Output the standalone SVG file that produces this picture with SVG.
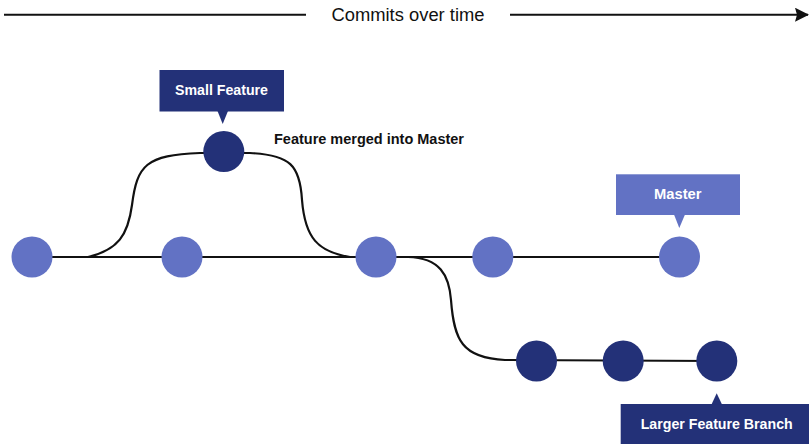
<svg xmlns="http://www.w3.org/2000/svg" width="809" height="444" viewBox="0 0 809 444">
  <style>
    .line { fill: none; stroke: #111; stroke-width: 2.2; stroke-linecap: round; }
    .axis { fill: none; stroke: #111; stroke-width: 2; }
    .light { fill: #6272c4; }
    .dark { fill: #233178; }
    .lbl { font-family: "Liberation Sans", Arial, sans-serif; font-weight: bold; font-size: 14px; fill: #ffffff; }
    .note { font-family: "Liberation Sans", Arial, sans-serif; font-weight: bold; font-size: 14px; fill: #111; }
    .title { font-family: "Liberation Sans", Arial, sans-serif; font-size: 18px; fill: #111; }
  </style>
  <defs>
    <marker id="arrow" viewBox="0 0 14 14" refX="13" refY="7" markerWidth="14" markerHeight="14" markerUnits="userSpaceOnUse" orient="auto">
      <path d="M0,0 L14,7 L0,14 L2,7 Z" fill="#111"/>
    </marker>
  </defs>

  <g id="axis">
    <line class="axis" x1="4" y1="14.7" x2="306" y2="14.7"/>
    <text class="title" x="331.5" y="21" textLength="153" lengthAdjust="spacingAndGlyphs">Commits over time</text>
    <line class="axis" x1="510" y1="14.7" x2="808" y2="14.7" marker-end="url(#arrow)"/>
  </g>

  <g id="connectors">
    <line class="line" x1="32" y1="257" x2="679" y2="257"/>
    <path class="line" d="M88,257 C118,250 128,235 132,205 C137,165 146,155 200,153 L250,153 C290,155 300,165 302,200 C305,238 318,252 350,257"/>
    <path class="line" d="M408,257 C440,258 449,275 451,300 C454,340 462,358 505,360 L716,361"/>
  </g>

  <g id="c1"><circle class="light" cx="32" cy="257" r="20.5"/></g>
  <g id="c2"><circle class="light" cx="182" cy="257" r="20.5"/></g>
  <g id="c3"><circle class="light" cx="376" cy="257" r="20.5"/></g>
  <g id="c4"><circle class="light" cx="492.8" cy="257" r="20.5"/></g>
  <g id="c5"><circle class="light" cx="679.5" cy="257" r="20.5"/></g>
  <g id="f1"><circle class="dark" cx="223.8" cy="151.5" r="20.5"/></g>
  <g id="b1"><circle class="dark" cx="536.5" cy="361" r="20.5"/></g>
  <g id="b2"><circle class="dark" cx="623.2" cy="361" r="20.5"/></g>
  <g id="b3"><circle class="dark" cx="716.8" cy="361" r="20.5"/></g>

  <g id="label-small-feature">
    <rect class="dark" x="159.5" y="70" width="124.5" height="41.5"/>
    <polygon class="dark" points="217.5,111 228,111 222.7,124"/>
    <text class="lbl" x="175" y="95" textLength="93" lengthAdjust="spacingAndGlyphs">Small Feature</text>
  </g>

  <g id="label-merged">
    <text class="note" x="274" y="144.3" textLength="190" lengthAdjust="spacingAndGlyphs">Feature merged into Master</text>
  </g>

  <g id="label-master">
    <rect class="light" x="616" y="174.3" width="124" height="40.7"/>
    <polygon class="light" points="674,214.5 685,214.5 679.3,228"/>
    <text class="lbl" x="654" y="199.3" textLength="47.5" lengthAdjust="spacingAndGlyphs">Master</text>
  </g>

  <g id="label-larger-feature">
    <rect class="dark" x="620.7" y="404" width="188.3" height="40"/>
    <polygon class="dark" points="711.5,404.5 722,404.5 716.7,393.3"/>
    <text class="lbl" x="640.7" y="429.3" textLength="152" lengthAdjust="spacingAndGlyphs">Larger Feature Branch</text>
  </g>
</svg>
